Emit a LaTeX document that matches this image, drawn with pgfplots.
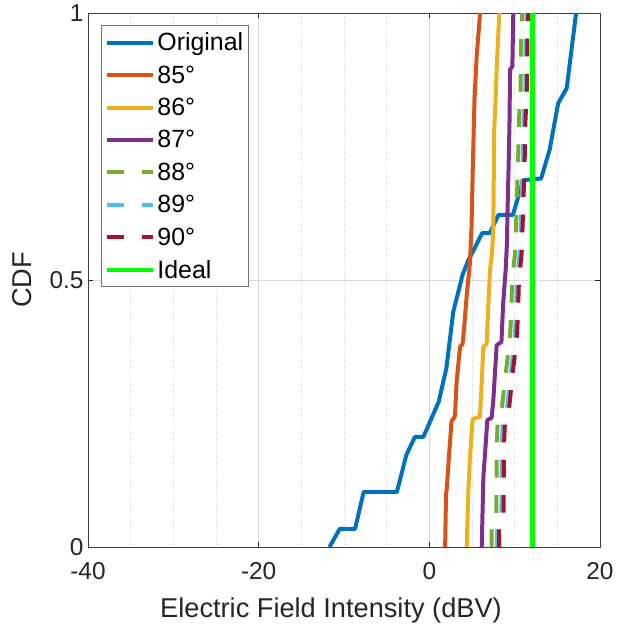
\documentclass[border=0pt]{standalone}
\usepackage{fontspec}
\setmainfont{Liberation Sans}
\usepackage{pgfplots}
\pgfplotsset{compat=1.18}
\usetikzlibrary{calc}

% MATLAB default line colours
\definecolor{mBlue}{rgb}{0,0.447,0.741}
\definecolor{mOrange}{rgb}{0.850,0.325,0.098}
\definecolor{mYellow}{rgb}{0.929,0.694,0.125}
\definecolor{mPurple}{rgb}{0.494,0.184,0.556}
\definecolor{mGreen}{rgb}{0.466,0.674,0.188}
\definecolor{mCyan}{rgb}{0.301,0.745,0.933}
\definecolor{mRed}{rgb}{0.635,0.078,0.184}
\definecolor{ideal}{rgb}{0,1,0}
\definecolor{axgray}{rgb}{0.15,0.15,0.15}

\begin{document}
\begin{tikzpicture}
\begin{axis}[
  name=ax,
  width=512bp, height=534bp, scale only axis,
  xmin=-40, xmax=20, ymin=0, ymax=1,
  xtick={-40,-20,0,20},
  ytick={0,0.5,1}, yticklabels={0,0.5,1},
  minor x tick num=3,
  xmajorgrids, ymajorgrids, xminorgrids,
  major grid style={draw=black!15, line width=0.6bp},
  minor grid style={draw=black!17, dotted, line width=0.6bp},
  minor tick length=0pt,
  major tick length=5bp,
  tick align=inside,
  axis line style={draw=axgray!90, line width=0.8bp},
  tick style={draw=axgray, line width=0.8bp},
  /pgf/number format/assume math mode=true,
  ticklabel style={font=\fontsize{24.5}{24.5}\selectfont, text=axgray},
  xticklabel style={yshift=-11.5bp},
  yticklabel style={xshift=-1bp},
  label style={font=\fontsize{27.3}{27.3}\selectfont, text=axgray},
  xlabel={Electric Field Intensity (dBV)},
  ylabel={CDF},
  xlabel style={yshift=-12bp, xshift=-13bp},
  ylabel style={yshift=11bp},
  legend cell align=left,
  legend style={
    at={(0.0254,0.9768)}, anchor=north west,
    draw=black!55, line width=0.8bp, fill=white,
    font=\fontsize{25}{25}\selectfont,
    inner xsep=3bp, inner ysep=5bp,
    row sep=9.5bp,
    nodes={inner xsep=2.5bp, inner ysep=2bp},
  },
  legend image code/.code={\draw[#1] (0bp,0bp) -- (46bp,0bp);},
  every axis plot/.append style={line width=4bp, line join=round},
]

% Original
\addplot[mBlue] coordinates {
(-11.7,0) (-10.5,0.034) (-8.7,0.034) (-7.7,0.103) (-3.8,0.103)
(-2.7,0.172) (-1.7,0.206) (-0.7,0.206) (1.1,0.272) (2.0,0.335)
(2.8,0.44) (3.9,0.51) (4.6,0.538) (5.0,0.55) (6.2,0.588) (7.1,0.588)
(8.1,0.622) (9.8,0.622) (11.0,0.687) (13.1,0.69) (14.1,0.744)
(15.1,0.831) (16.1,0.859) (17.2,1.0)
};
\addlegendentry{Original}

% 85 degrees
\addplot[mOrange] coordinates {
(1.85,0) (1.96,0.10) (2.05,0.11) (2.3,0.17) (2.6,0.235) (3.0,0.245)
(3.2,0.31) (3.6,0.375) (3.9,0.38) (4.1,0.415) (4.4,0.475) (4.75,0.53)
(4.95,0.60) (5.08,0.70) (5.2,0.78) (5.3,0.84) (5.55,0.92) (5.95,1.0)
};
\addlegendentry{85°}

% 86 degrees
\addplot[mYellow] coordinates {
(4.38,0) (4.57,0.105) (4.77,0.17) (5.08,0.24) (5.94,0.244) (6.14,0.31)
(6.33,0.375) (6.72,0.38) (6.91,0.45) (7.11,0.52) (7.35,0.55) (7.5,0.6)
(7.6,0.78) (7.75,0.83) (7.9,0.9) (8.2,1.0)
};
\addlegendentry{86°}

% 87 degrees
\addplot[mPurple] coordinates {
(6.14,0) (6.33,0.13) (6.55,0.18) (6.8,0.238) (7.3,0.242) (7.5,0.275)
(7.89,0.378) (8.45,0.384) (8.65,0.455) (8.95,0.52) (9.1,0.57)
(9.15,0.62) (9.3,0.72) (9.4,0.8) (9.46,0.894) (9.73,0.9) (9.84,1.0)
};
\addlegendentry{87°}

% 88 degrees
\addplot[mGreen, dash pattern=on 17.7bp off 17.5bp] coordinates {
(7.31,0) (7.31,0.04) (7.86,0.06) (7.9,0.19) (8.0,0.23) (8.5,0.26)
(8.99,0.33) (9.45,0.39) (9.6,0.44) (9.7,0.5) (10.05,0.55) (10.2,0.62)
(10.4,0.72) (10.5,0.8) (10.7,0.86) (10.75,0.95) (10.9,1.0)
};
\addlegendentry{88°}

% 89 degrees
\addplot[mCyan, dash pattern=on 17.7bp off 17.5bp] coordinates {
(7.95,0) (7.95,0.04) (8.45,0.06) (8.5,0.19) (8.6,0.23) (9.1,0.26)
(9.58,0.33) (10.02,0.39) (10.16,0.44) (10.27,0.5) (10.6,0.55) (10.75,0.62)
(10.95,0.72) (11.05,0.8) (11.25,0.86) (11.3,0.95) (11.4,1.0)
};
\addlegendentry{89°}

% 90 degrees
\addplot[mRed, dash pattern=on 17.7bp off 17.5bp] coordinates {
(8.17,0) (8.17,0.04) (8.7,0.06) (8.75,0.19) (8.85,0.23) (9.35,0.26)
(9.8,0.33) (10.25,0.39) (10.4,0.44) (10.5,0.5) (10.82,0.55) (10.97,0.62)
(11.17,0.72) (11.27,0.8) (11.45,0.86) (11.5,0.95) (11.6,1.0)
};
\addlegendentry{90°}

% Ideal
\addplot[ideal, line width=4.5bp] coordinates {(12.07,0) (12.07,1)};
\addlegendentry{Ideal}

\end{axis}
\pgfresetboundingbox
\path ($(ax.south west)+(-88bp,-81bp)$) rectangle ($(ax.north east)+(17bp,13bp)$);
\end{tikzpicture}
\end{document}
